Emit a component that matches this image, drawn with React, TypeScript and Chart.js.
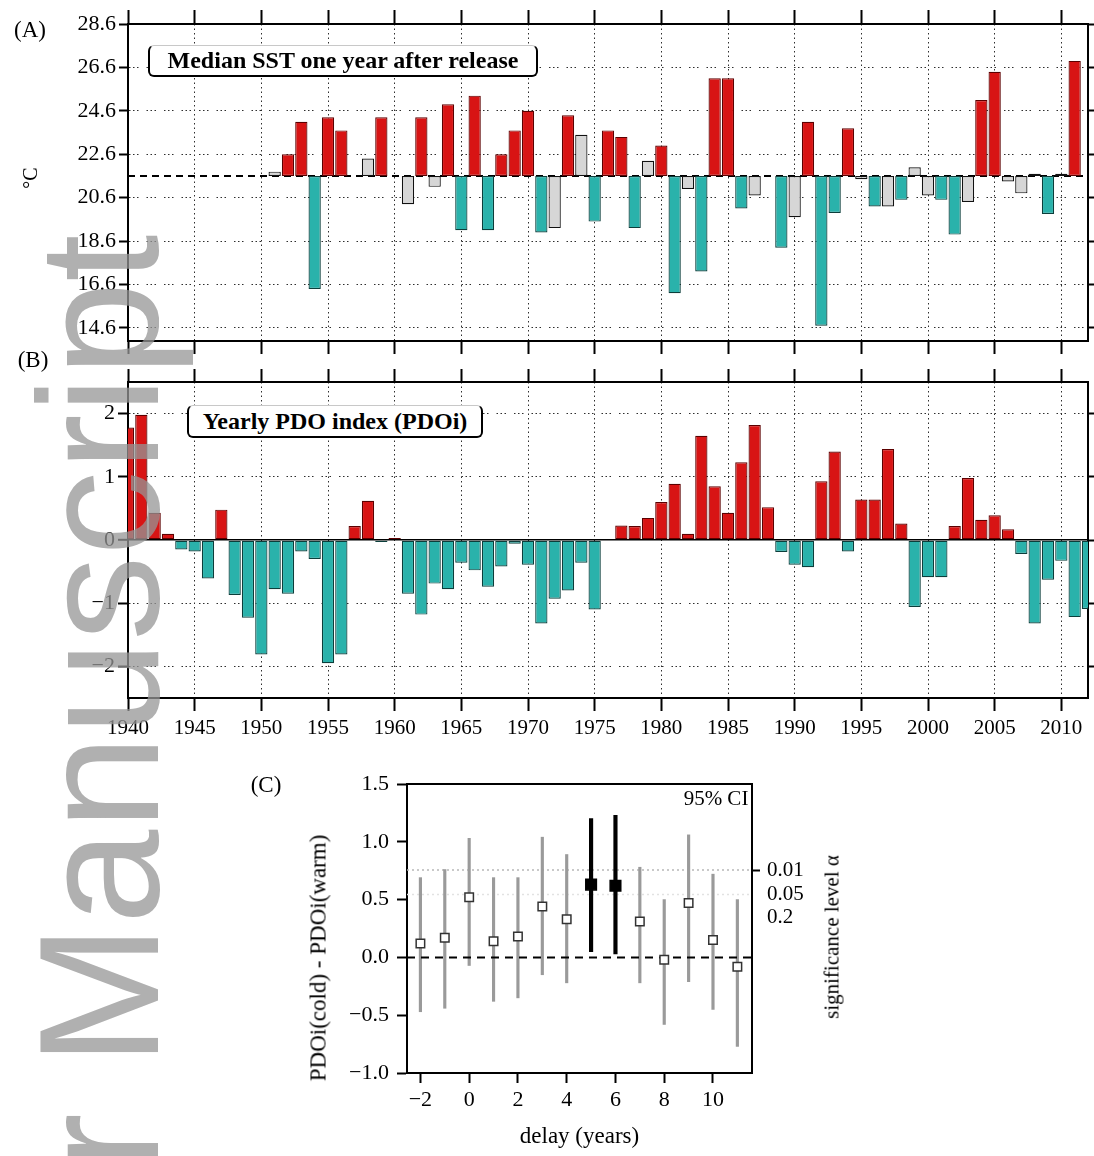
import React, { useEffect, useRef } from 'react';
import { Chart, registerables } from 'chart.js';

Chart.register(...registerables);

const SERIF = '"Liberation Serif", "Times New Roman", "DejaVu Serif", serif';
const SANS = '"Liberation Sans", Arial, sans-serif';

// ---------- Panel A: median SST one year after release ----------
const sstYears = [1951, 1952, 1953, 1954, 1955, 1956, 1958, 1959, 1961, 1962, 1963, 1964, 1965, 1966, 1967, 1968, 1969, 1970, 1971, 1972, 1973, 1974, 1975, 1976, 1977, 1978, 1979, 1980, 1981, 1982, 1983, 1984, 1985, 1986, 1987, 1989, 1990, 1991, 1992, 1993, 1994, 1995, 1996, 1997, 1998, 1999, 2000, 2001, 2002, 2003, 2004, 2005, 2006, 2007, 2008, 2009, 2010, 2011];
const sstValues = [21.8, 22.6, 24.1, 16.4, 24.3, 23.7, 22.4, 24.3, 20.3, 24.3, 21.1, 24.9, 19.1, 25.3, 19.1, 22.6, 23.7, 24.6, 19.0, 19.2, 24.4, 23.5, 19.5, 23.7, 23.4, 19.2, 22.3, 23.0, 16.2, 21.0, 17.2, 26.1, 26.1, 20.1, 20.7, 18.3, 19.7, 24.1, 14.7, 19.9, 23.8, 21.45, 20.2, 20.2, 20.5, 22.0, 20.7, 20.5, 18.9, 20.4, 25.1, 26.4, 21.35, 20.8, 21.7, 19.85, 21.7, 26.9];
// w = significantly warm, c = significantly cold, n = not significant
const sstClass = ['n', 'w', 'w', 'c', 'w', 'w', 'n', 'w', 'n', 'w', 'n', 'w', 'c', 'w', 'c', 'w', 'w', 'w', 'c', 'n', 'w', 'n', 'c', 'w', 'w', 'c', 'n', 'w', 'c', 'n', 'c', 'w', 'w', 'c', 'n', 'c', 'n', 'w', 'c', 'c', 'w', 'n', 'c', 'n', 'c', 'n', 'n', 'c', 'c', 'n', 'w', 'w', 'n', 'n', 'n', 'c', 'n', 'w'];
const sstBaseline = 21.6;
const sstTicks = [14.6, 16.6, 18.6, 20.6, 22.6, 24.6, 26.6, 28.6];
const sstMin = 14.0;
const sstMax = 28.6;

// ---------- Panel B: yearly PDO index ----------
const pdoYears = [1940, 1941, 1942, 1943, 1944, 1945, 1946, 1947, 1948, 1949, 1950, 1951, 1952, 1953, 1954, 1955, 1956, 1957, 1958, 1959, 1960, 1961, 1962, 1963, 1964, 1965, 1966, 1967, 1968, 1969, 1970, 1971, 1972, 1973, 1974, 1975, 1976, 1977, 1978, 1979, 1980, 1981, 1982, 1983, 1984, 1985, 1986, 1987, 1988, 1989, 1990, 1991, 1992, 1993, 1994, 1995, 1996, 1997, 1998, 1999, 2000, 2001, 2002, 2003, 2004, 2005, 2006, 2007, 2008, 2009, 2010, 2011, 2012];
const pdoValues = [1.78, 1.98, 0.43, 0.10, -0.15, -0.18, -0.61, 0.48, -0.87, -1.23, -1.81, -0.78, -0.85, -0.18, -0.30, -1.95, -1.81, 0.22, 0.62, -0.03, 0.03, -0.85, -1.18, -0.69, -0.78, -0.36, -0.48, -0.74, -0.42, -0.06, -0.39, -1.32, -0.93, -0.80, -0.36, -1.10, 0.0, 0.23, 0.22, 0.35, 0.60, 0.89, 0.10, 1.65, 0.85, 0.43, 1.23, 1.82, 0.52, -0.19, -0.39, -0.43, 0.93, 1.40, -0.18, 0.64, 0.64, 1.44, 0.26, -1.06, -0.59, -0.59, 0.22, 0.98, 0.32, 0.39, 0.17, -0.22, -1.32, -0.63, -0.33, -1.22, -1.09];
const pdoTicks = [-2, -1, 0, 1, 2];
const pdoMin = -2.5;
const pdoMax = 2.5;

const yearTicks = [1940, 1945, 1950, 1955, 1960, 1965, 1970, 1975, 1980, 1985, 1990, 1995, 2000, 2005, 2010];
const yearMin = 1940;
const yearMax = 2012;

// ---------- Panel C: PDOi(cold) - PDOi(warm) vs delay ----------
const delays = [-2, -1, 0, 1, 2, 3, 4, 5, 6, 7, 8, 9, 10, 11];
const diffMedian = [0.12, 0.17, 0.52, 0.14, 0.18, 0.44, 0.33, 0.63, 0.62, 0.31, -0.02, 0.47, 0.15, -0.08];
const ciLow = [-0.47, -0.44, -0.07, -0.38, -0.35, -0.15, -0.22, 0.05, 0.03, -0.22, -0.58, -0.21, -0.45, -0.77];
const ciHigh = [0.69, 0.76, 1.03, 0.69, 0.69, 1.04, 0.89, 1.2, 1.23, 0.78, 0.5, 1.06, 0.72, 0.5];
const significant = [false, false, false, false, false, false, false, true, true, false, false, false, false, false];
const sigLevels = [0.756, 0.545, 0.345];
const sigLabels = ['0.01', '0.05', '0.2'];
const diffTicks = [-1, -0.5, 0, 0.5, 1, 1.5];
const delayTicks = [-2, 0, 2, 4, 6, 8, 10];
const delayMin = -2.55;
const delayMax = 11.6;
const diffMin = -1;
const diffMax = 1.5;

// ---------- styles ----------
const RED = '#d81414';
const RED_EDGE = '#5c0000';
const TEAL = '#2ab2ab';
const TEAL_EDGE = '#0c3e3b';
const GREY = '#d6d6d6';
const GREY_EDGE = '#111111';
const GRID = '#2e2e2e';
const DOTS_H = [1.5, 2.5, 1.5, 2.5, 1.5, 8];
const DOTS_V = [1.5, 3];

const setTicks = (vals: number[]) => (scale: any) => {
  scale.ticks = vals.map((v) => ({ value: v }));
};
const fixW = (w: number) => (scale: any) => {
  scale.width = w;
};
const fixH = (h: number) => (scale: any) => {
  scale.height = h;
};
const minus = (s: string) => s.replace('-', '\u2212');

const baseOptions = {
  responsive: false,
  animation: false as const,
  layout: { padding: 0 },
  plugins: { legend: { display: false }, tooltip: { enabled: false } },
};

function configA(): any {
  const fills = sstClass.map((c) => (c === 'w' ? RED : c === 'c' ? TEAL : GREY));
  const edges = sstClass.map((c) => (c === 'w' ? RED_EDGE : c === 'c' ? TEAL_EDGE : GREY_EDGE));
  return {
    type: 'bar',
    data: {
      datasets: [
        {
          type: 'bar',
          data: sstYears.map((x, i) => ({ x, y: [sstBaseline, sstValues[i]] })),
          backgroundColor: fills,
          borderColor: edges,
          borderWidth: 1.2,
          borderSkipped: false,
          barPercentage: 0.92,
          categoryPercentage: 1,
          order: 0,
        },
        {
          type: 'line',
          data: [
            { x: yearMin, y: sstBaseline },
            { x: yearMax, y: sstBaseline },
          ],
          borderColor: '#000',
          borderWidth: 1.8,
          borderDash: [7, 5],
          pointRadius: 0,
          order: 1,
        },
      ],
    },
    options: {
      ...baseOptions,
      scales: {
        x: {
          type: 'linear', position: 'bottom', min: yearMin, max: yearMax, offset: false,
          afterBuildTicks: setTicks(yearTicks), afterFit: fixH(20),
          ticks: { display: false },
          grid: { offset: false, color: GRID, lineWidth: 1, tickLength: 13, tickColor: '#000', tickWidth: 2 },
          border: { color: '#000', width: 2, dash: DOTS_V },
        },
        x2: {
          type: 'linear', position: 'top', min: yearMin, max: yearMax, offset: false,
          afterBuildTicks: setTicks(yearTicks), afterFit: fixH(24),
          ticks: { display: false },
          grid: { offset: false, drawOnChartArea: false, tickLength: 14, tickColor: '#000', tickWidth: 2 },
          border: { color: '#000', width: 2 },
        },
        y: {
          type: 'linear', position: 'left', min: sstMin, max: sstMax,
          afterBuildTicks: setTicks(sstTicks), afterFit: fixW(128),
          ticks: { color: '#000', padding: 3, font: { family: SERIF, size: 22 }, callback: (v: number) => v.toFixed(1) },
          grid: { color: GRID, lineWidth: 1, tickLength: 9, tickColor: '#000', tickWidth: 2 },
          border: { color: '#000', width: 2, dash: DOTS_H },
        },
        y2: {
          type: 'linear', position: 'right', min: sstMin, max: sstMax,
          afterBuildTicks: setTicks(sstTicks), afterFit: fixW(6),
          ticks: { display: false },
          grid: { drawOnChartArea: false, tickLength: 6, tickColor: '#000', tickWidth: 2 },
          border: { color: '#000', width: 2 },
        },
      },
    },
  };
}

function configB(): any {
  const fills = pdoValues.map((v) => (v >= 0 ? RED : TEAL));
  const edges = pdoValues.map((v) => (v >= 0 ? RED_EDGE : TEAL_EDGE));
  return {
    type: 'bar',
    data: {
      datasets: [
        {
          type: 'bar',
          data: pdoYears.map((x, i) => ({ x, y: pdoValues[i] })),
          backgroundColor: fills,
          borderColor: edges,
          borderWidth: 1.2,
          borderSkipped: false,
          barPercentage: 0.92,
          categoryPercentage: 1,
        },
      ],
    },
    options: {
      ...baseOptions,
      scales: {
        x: {
          type: 'linear', position: 'bottom', min: yearMin, max: yearMax, offset: false,
          afterBuildTicks: setTicks(yearTicks), afterFit: fixH(62),
          ticks: { color: '#000', padding: 5, maxRotation: 0, font: { family: SERIF, size: 21 }, callback: (v: number) => String(v) },
          grid: { offset: false, color: GRID, lineWidth: 1, tickLength: 13, tickColor: '#000', tickWidth: 2 },
          border: { color: '#000', width: 2, dash: DOTS_V },
        },
        x2: {
          type: 'linear', position: 'top', min: yearMin, max: yearMax, offset: false,
          afterBuildTicks: setTicks(yearTicks), afterFit: fixH(21),
          ticks: { display: false },
          grid: { offset: false, drawOnChartArea: false, tickLength: 13, tickColor: '#000', tickWidth: 2 },
          border: { color: '#000', width: 2 },
        },
        y: {
          type: 'linear', position: 'left', min: pdoMin, max: pdoMax,
          afterBuildTicks: setTicks(pdoTicks), afterFit: fixW(128),
          ticks: { color: '#000', padding: 3, font: { family: SERIF, size: 22 }, callback: (v: number) => minus(String(v)) },
          grid: {
            color: (ctx: any) => (ctx.tick && ctx.tick.value === 0 ? '#000' : GRID),
            lineWidth: (ctx: any) => (ctx.tick && ctx.tick.value === 0 ? 1.6 : 1),
            tickLength: 10, tickColor: '#000', tickWidth: 2,
          },
          border: { color: '#000', width: 2, dash: (ctx: any) => (ctx.tick && ctx.tick.value === 0 ? [] : DOTS_H) },
        },
        y2: {
          type: 'linear', position: 'right', min: pdoMin, max: pdoMax,
          afterBuildTicks: setTicks(pdoTicks), afterFit: fixW(6),
          ticks: { display: false },
          grid: { drawOnChartArea: false, tickLength: 6, tickColor: '#000', tickWidth: 2 },
          border: { color: '#000', width: 2 },
        },
      },
    },
  };
}

function configC(): any {
  const pts = delays.map((x, i) => ({ x, y: diffMedian[i] }));
  const all = delays.map((x, i) => ({ x, y: [ciLow[i], ciHigh[i]], s: significant[i] }));
  const nsBars = all.filter((d) => !d.s).map(({ x, y }) => ({ x, y }));
  const sBars = all.filter((d) => d.s).map(({ x, y }) => ({ x, y }));
  return {
    type: 'bar',
    data: {
      datasets: [
        {
          type: 'line',
          data: pts,
          showLine: false,
          pointStyle: 'rect',
          pointRadius: significant.map((s) => (s ? 7.5 : 6)),
          pointBackgroundColor: significant.map((s) => (s ? '#000' : '#fff')),
          pointBorderColor: significant.map((s) => (s ? '#000' : '#333')),
          pointBorderWidth: 1.5,
          order: 0,
        },
        {
          type: 'line',
          data: [
            { x: delayMin, y: 0 },
            { x: delayMax, y: 0 },
          ],
          borderColor: '#000',
          borderWidth: 2,
          borderDash: [8, 6],
          pointRadius: 0,
          order: 1,
        },
        {
          type: 'bar',
          data: nsBars,
          backgroundColor: '#9a9a9a',
          barThickness: 2.5,
          grouped: false,
          order: 2,
        },
        {
          type: 'bar',
          data: sBars,
          backgroundColor: '#000',
          barThickness: 3.5,
          grouped: false,
          order: 2,
        },
        {
          type: 'line',
          data: [
            { x: delayMin, y: sigLevels[0] },
            { x: delayMax, y: sigLevels[0] },
          ],
          borderColor: '#b8b8b8',
          borderWidth: 1.5,
          borderDash: [2, 3],
          pointRadius: 0,
          order: 3,
        },
        {
          type: 'line',
          data: [
            { x: delayMin, y: sigLevels[1] },
            { x: delayMax, y: sigLevels[1] },
          ],
          borderColor: '#e2e2e2',
          borderWidth: 1.5,
          borderDash: [2, 3],
          pointRadius: 0,
          order: 3,
        },
      ],
    },
    options: {
      ...baseOptions,
      scales: {
        x: {
          type: 'linear', position: 'bottom', min: delayMin, max: delayMax, offset: false,
          afterBuildTicks: setTicks(delayTicks), afterFit: fixH(83),
          ticks: { color: '#000', padding: 4, maxRotation: 0, font: { family: SERIF, size: 22 }, callback: (v: number) => minus(String(v)) },
          grid: { offset: false, drawOnChartArea: false, tickLength: 10, tickColor: '#000', tickWidth: 2 },
          border: { color: '#000', width: 2 },
          title: { display: true, text: 'delay (years)', color: '#000', font: { family: SERIF, size: 23 }, padding: { top: 0, bottom: 5 } },
        },
        x2: {
          type: 'linear', position: 'top', min: delayMin, max: delayMax, offset: false,
          afterFit: fixH(34),
          ticks: { display: false },
          grid: { display: false, drawTicks: false },
          border: { color: '#000', width: 2 },
        },
        y: {
          type: 'linear', position: 'left', min: diffMin, max: diffMax,
          afterBuildTicks: setTicks(diffTicks), afterFit: fixW(167),
          ticks: { color: '#000', padding: 8, font: { family: SERIF, size: 22 }, callback: (v: number) => minus(v.toFixed(1)) },
          grid: { drawOnChartArea: false, tickLength: 10, tickColor: '#000', tickWidth: 2 },
          border: { color: '#000', width: 2 },
        },
        y2: {
          type: 'linear', position: 'right', min: diffMin, max: diffMax,
          afterBuildTicks: setTicks(sigLevels), afterFit: fixW(108),
          ticks: { color: '#000', padding: 7, font: { family: SERIF, size: 21 }, callback: (_v: number, i: number) => sigLabels[i] },
          grid: {
            drawOnChartArea: false, tickLength: 8, tickWidth: 2,
            tickColor: (ctx: any) => (ctx.index === 0 ? '#000' : 'rgba(0,0,0,0)'),
          },
          border: { color: '#000', width: 2 },
        },
      },
    },
  };
}

function ChartBox(props: { make: () => any; left: number; top: number; width: number; height: number }) {
  const ref = useRef<HTMLCanvasElement | null>(null);
  useEffect(() => {
    if (!ref.current) return;
    const chart = new Chart(ref.current, props.make());
    return () => chart.destroy();
  }, []);
  return (
    <canvas
      ref={ref}
      width={props.width}
      height={props.height}
      style={{ position: 'absolute', left: props.left, top: props.top, width: props.width, height: props.height }}
    />
  );
}

const centered = (cx: number, cy: number, size: number, rotate = 0, extra: any = {}): any => ({
  position: 'absolute',
  left: cx,
  top: cy,
  transform: `translate(-50%, -50%) rotate(${rotate}deg)`,
  fontFamily: SERIF,
  fontSize: size,
  color: '#000',
  whiteSpace: 'nowrap',
  lineHeight: 1,
  zIndex: 5,
  ...extra,
});

const boxStyle = (left: number, top: number, width: number, height: number): any => ({
  position: 'absolute',
  left,
  top,
  width,
  height,
  boxSizing: 'border-box',
  background: '#fff',
  borderLeft: '2px solid #000',
  borderRight: '2px solid #000',
  borderBottom: '2px solid #000',
  borderTop: '1px solid #c8c8c8',
  borderRadius: 6,
  display: 'flex',
  alignItems: 'center',
  justifyContent: 'center',
  fontFamily: SERIF,
  fontWeight: 'bold',
  fontSize: 24,
  color: '#000',
  whiteSpace: 'nowrap',
  zIndex: 5,
});

export default function App() {
  return (
    <div style={{ position: 'absolute', left: 0, top: 0, width: 1094, height: 1156, overflow: 'hidden', background: '#fff' }}>
      <ChartBox make={configA} left={0} top={0} width={1094} height={361} />
      <ChartBox make={configB} left={0} top={361} width={1094} height={399} />
      <ChartBox make={configC} left={240} top={750} width={620} height={406} />

      <div style={centered(30, 29, 23)}>(A)</div>
      <div style={centered(33, 359, 23)}>(B)</div>
      <div style={centered(266, 784, 23)}>(C)</div>
      <div style={centered(30, 178, 20, -90)}>°C</div>

      <div style={boxStyle(148, 45, 390, 32)}>Median SST one year after release</div>
      <div style={boxStyle(187, 405, 296, 33)}>Yearly PDO index (PDOi)</div>

      <div style={centered(716, 798, 21)}>95% CI</div>
      <div style={centered(318, 958, 23, -90)}>PDOi(cold) - PDOi(warm)</div>
      <div style={centered(832, 937, 21, -90)}>significance level α</div>

      <div
        style={{
          position: 'absolute',
          left: 14,
          top: 1614,
          transformOrigin: '0 0',
          transform: 'rotate(-90deg)',
          fontFamily: SANS,
          fontSize: 170,
          lineHeight: 1,
          color: 'rgba(150,150,150,0.75)',
          whiteSpace: 'nowrap',
          pointerEvents: 'none',
          zIndex: 10,
        }}
      >
        Author Manuscript
      </div>
    </div>
  );
}
